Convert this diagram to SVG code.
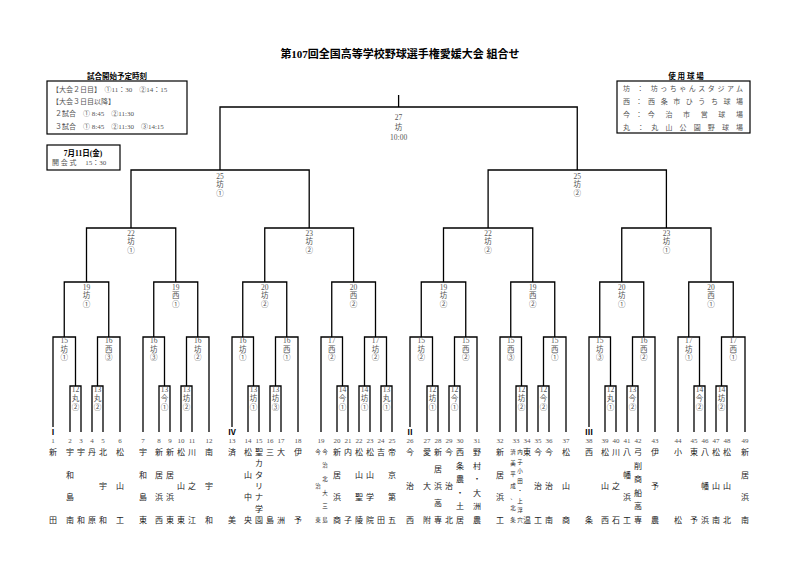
<svg xmlns="http://www.w3.org/2000/svg" width="801" height="566" viewBox="0 0 801 566">
<style>
.l{fill:none;stroke:#000;stroke-width:1.3}
.b{fill:none;stroke:#000;stroke-width:1.2}
text{font-family:"Liberation Serif","Noto Sans CJK JP",serif}
.t{font-size:7.5px;fill:#555;text-anchor:middle}
.n{font-size:8px;fill:#222;text-anchor:middle}
.s{font-size:5.5px;fill:#222;text-anchor:middle}
.k{font-size:7px;fill:#555;text-anchor:middle}
.h{font-size:7.5px;font-weight:bold;fill:#000;text-anchor:middle}
.i{font-size:7px;fill:#555}
.r{font-size:8px;font-weight:bold;fill:#000;text-anchor:middle}
</style>
<rect width="801" height="566" fill="#fff"/>
<text x="400" y="58" style="font-size:11px;font-weight:bold;text-anchor:middle">第107回全国高等学校野球選手権愛媛大会 組合せ</text>
<g id="start-times">
<text class="h" x="117" y="79">試合開始予定時刻</text>
<rect class="b" x="47" y="81" width="140" height="53"/>
<text class="i" x="52" y="92">【大会２日目】　①11：30　②14：15</text>
<text class="i" x="52" y="104">【大会３日目以降】</text>
<text class="i" x="55" y="116">２試合　① 8:45　②11:30</text>
<text class="i" x="55" y="129">３試合　① 8:45　②11:30　③14:15</text>
</g>
<g id="opening">
<rect class="b" x="47" y="145" width="73" height="25"/>
<text class="h" x="83" y="156">7月11日(金)</text>
<text class="i" x="52" y="165">開 会 式　 15：30</text>
</g>
<g id="venues">
<text class="h" x="686" y="79">使 用 球 場</text>
<rect class="b" x="617" y="81" width="133" height="52"/>
<text class="i" x="623" y="91" textLength="120">坊 ： 坊っちゃんスタジアム</text>
<text class="i" x="623" y="104" textLength="120">西 ： 西 条 市 ひ う ち 球 場</text>
<text class="i" x="623" y="117" textLength="120">今 ： 今　治　市　営　球　場</text>
<text class="i" x="623" y="130" textLength="120">丸 ： 丸 山 公 園 野 球 場</text>
</g>
<g id="connectors">
<path class="l" d="M398.6,95V107M220,170V107H577.25V170"/>
<path class="l" d="M131,228V170H309.2V228M488.1,228V170H666.4V228"/>
<path class="l" d="M86.5,282V228H175.75V282M264.75,282V228H353.6V282M443.5,282V228H532.75V282M621.75,282V228H711V282"/>
<path class="l" d="M64.25,337V282H108.75V337M153.75,337V282H197.75V337M242.75,337V282H286.75V337M331.75,337V282H375.5V337M421.25,337V282H465.75V337M510.75,337V282H554.75V337M599.75,337V282H643.75V337M688.75,337V282H733.25V337"/>
<path class="l" d="M53,427V337H75.5V386M97.5,386V337H120V432M143,432V337H164.5V386M186.5,386V337H209V432M232,427V337H253.5V386M275.5,386V337H298V432M321,432V337H342.5V386M364.5,386V337H386.5V386M410,427V337H432.5V386M454.5,386V337H477V432M500,432V337H521.5V386M543.5,386V337H566V432M589,427V337H610.5V386M632.5,386V337H655V432M678,432V337H699.5V386M721.5,386V337H745V432"/>
<path class="l" d="M70,432V386H81V432M92,432V386H103V432M159,432V386H170V432M181,432V386H192V432M248,432V386H259V432M270,432V386H281V432M337,432V386H348V432M359,432V386H370V432M381,432V386H392V432M427,432V386H438V432M449,432V386H460V432M516,432V386H527V432M538,432V386H549V432M605,432V386H616V432M627,432V386H638V432M694,432V386H705V432M716,432V386H727V432"/>
</g>
<g id="match-labels" class="t">
<text x="398.6" y="120">27</text><text x="398.6" y="130">坊</text><text x="398.6" y="140">10:00</text>
<text x="220" y="179">25</text><text x="220" y="187">坊</text><text x="220" y="196">①</text>
<text x="577.25" y="179">25</text><text x="577.25" y="187">坊</text><text x="577.25" y="196">②</text>
<text x="131" y="236">22</text><text x="131" y="244">坊</text><text x="131" y="253">①</text>
<text x="309.2" y="236">23</text><text x="309.2" y="244">坊</text><text x="309.2" y="253">②</text>
<text x="488.1" y="236">22</text><text x="488.1" y="244">坊</text><text x="488.1" y="253">②</text>
<text x="666.4" y="236">23</text><text x="666.4" y="244">坊</text><text x="666.4" y="253">①</text>
<text x="86.5" y="290">19</text><text x="86.5" y="298">坊</text><text x="86.5" y="307">①</text>
<text x="175.75" y="290">19</text><text x="175.75" y="298">西</text><text x="175.75" y="307">①</text>
<text x="264.75" y="290">20</text><text x="264.75" y="298">坊</text><text x="264.75" y="307">②</text>
<text x="353.6" y="290">20</text><text x="353.6" y="298">西</text><text x="353.6" y="307">②</text>
<text x="443.5" y="290">19</text><text x="443.5" y="298">坊</text><text x="443.5" y="307">②</text>
<text x="532.75" y="290">19</text><text x="532.75" y="298">西</text><text x="532.75" y="307">②</text>
<text x="621.75" y="290">20</text><text x="621.75" y="298">坊</text><text x="621.75" y="307">①</text>
<text x="711" y="290">20</text><text x="711" y="298">西</text><text x="711" y="307">①</text>
<text x="64.25" y="343">15</text><text x="64.25" y="352">坊</text><text x="64.25" y="360">①</text>
<text x="108.75" y="343">16</text><text x="108.75" y="352">西</text><text x="108.75" y="360">③</text>
<text x="153.75" y="343">16</text><text x="153.75" y="352">坊</text><text x="153.75" y="360">③</text>
<text x="197.75" y="343">16</text><text x="197.75" y="352">坊</text><text x="197.75" y="360">②</text>
<text x="242.75" y="343">16</text><text x="242.75" y="352">坊</text><text x="242.75" y="360">①</text>
<text x="286.75" y="343">16</text><text x="286.75" y="352">西</text><text x="286.75" y="360">①</text>
<text x="331.75" y="343">17</text><text x="331.75" y="352">西</text><text x="331.75" y="360">②</text>
<text x="375.5" y="343">17</text><text x="375.5" y="352">坊</text><text x="375.5" y="360">②</text>
<text x="421.25" y="343">15</text><text x="421.25" y="352">坊</text><text x="421.25" y="360">②</text>
<text x="465.75" y="343">15</text><text x="465.75" y="352">西</text><text x="465.75" y="360">②</text>
<text x="510.75" y="343">15</text><text x="510.75" y="352">西</text><text x="510.75" y="360">③</text>
<text x="554.75" y="343">15</text><text x="554.75" y="352">西</text><text x="554.75" y="360">①</text>
<text x="599.75" y="343">15</text><text x="599.75" y="352">坊</text><text x="599.75" y="360">③</text>
<text x="643.75" y="343">16</text><text x="643.75" y="352">西</text><text x="643.75" y="360">②</text>
<text x="688.75" y="343">17</text><text x="688.75" y="352">坊</text><text x="688.75" y="360">①</text>
<text x="733.25" y="343">17</text><text x="733.25" y="352">西</text><text x="733.25" y="360">①</text>
<text x="75.5" y="392">12</text><text x="75.5" y="401">丸</text><text x="75.5" y="410">②</text>
<text x="97.5" y="392">13</text><text x="97.5" y="401">丸</text><text x="97.5" y="410">②</text>
<text x="164.5" y="392">13</text><text x="164.5" y="401">今</text><text x="164.5" y="410">①</text>
<text x="186.5" y="392">13</text><text x="186.5" y="401">坊</text><text x="186.5" y="410">②</text>
<text x="253.5" y="392">13</text><text x="253.5" y="401">坊</text><text x="253.5" y="410">①</text>
<text x="275.5" y="392">13</text><text x="275.5" y="401">坊</text><text x="275.5" y="410">③</text>
<text x="342.5" y="392">14</text><text x="342.5" y="401">今</text><text x="342.5" y="410">①</text>
<text x="364.5" y="392">14</text><text x="364.5" y="401">坊</text><text x="364.5" y="410">①</text>
<text x="386.5" y="392">13</text><text x="386.5" y="401">丸</text><text x="386.5" y="410">①</text>
<text x="432.5" y="392">12</text><text x="432.5" y="401">坊</text><text x="432.5" y="410">①</text>
<text x="454.5" y="392">12</text><text x="454.5" y="401">今</text><text x="454.5" y="410">①</text>
<text x="521.5" y="392">12</text><text x="521.5" y="401">坊</text><text x="521.5" y="410">②</text>
<text x="543.5" y="392">12</text><text x="543.5" y="401">今</text><text x="543.5" y="410">②</text>
<text x="610.5" y="392">12</text><text x="610.5" y="401">丸</text><text x="610.5" y="410">①</text>
<text x="632.5" y="392">13</text><text x="632.5" y="401">今</text><text x="632.5" y="410">②</text>
<text x="699.5" y="392">14</text><text x="699.5" y="401">今</text><text x="699.5" y="410">②</text>
<text x="721.5" y="392">14</text><text x="721.5" y="401">坊</text><text x="721.5" y="410">②</text>
</g>
<g id="blocks">
<text class="r" x="53" y="435">Ⅰ</text><text class="r" x="232" y="435">Ⅳ</text><text class="r" x="410" y="435">Ⅱ</text><text class="r" x="589" y="435">Ⅲ</text>
</g>
<g id="numbers" class="k">
<text x="53" y="443">1</text><text x="70" y="443">2</text><text x="81" y="443">3</text><text x="92" y="443">4</text><text x="103" y="443">5</text><text x="120" y="443">6</text><text x="143" y="443">7</text><text x="159" y="443">8</text><text x="170" y="443">9</text><text x="181" y="443">10</text><text x="192" y="443">11</text><text x="209" y="443">12</text><text x="232" y="443">13</text><text x="248" y="443">14</text><text x="259" y="443">15</text><text x="270" y="443">16</text><text x="281" y="443">17</text><text x="298" y="443">18</text><text x="321" y="443">19</text><text x="337" y="443">20</text><text x="348" y="443">21</text><text x="359" y="443">22</text><text x="370" y="443">23</text><text x="381" y="443">24</text><text x="392" y="443">25</text><text x="410" y="443">26</text><text x="427" y="443">27</text><text x="438" y="443">28</text><text x="449" y="443">29</text><text x="460" y="443">30</text><text x="477" y="443">31</text><text x="500" y="443">32</text><text x="516" y="443">33</text><text x="527" y="443">34</text><text x="538" y="443">35</text><text x="549" y="443">36</text><text x="566" y="443">37</text><text x="589" y="443">38</text><text x="605" y="443">39</text><text x="616" y="443">40</text><text x="627" y="443">41</text><text x="638" y="443">42</text><text x="655" y="443">43</text><text x="678" y="443">44</text><text x="694" y="443">45</text><text x="705" y="443">46</text><text x="716" y="443">47</text><text x="727" y="443">48</text><text x="745" y="443">49</text>
</g>
<g id="teams" class="n">
<text id="t1" x="53 53 53 53 53 53 53 53"><tspan y="455">新</tspan><tspan y="523">田</tspan></text>
<text id="t2" x="70 70 70 70 70 70 70 70"><tspan y="455">宇</tspan><tspan y="478">和</tspan><tspan y="500">島</tspan><tspan y="523">南</tspan></text>
<text id="t3" x="81 81 81 81 81 81 81 81"><tspan y="455">宇</tspan><tspan y="523">和</tspan></text>
<text id="t4" x="92 92 92 92 92 92 92 92"><tspan y="455">丹</tspan><tspan y="523">原</tspan></text>
<text id="t5" x="103 103 103 103 103 103 103 103"><tspan y="455">北</tspan><tspan y="489">宇</tspan><tspan y="523">和</tspan></text>
<text id="t6" x="120 120 120 120 120 120 120 120"><tspan y="455">松</tspan><tspan y="489">山</tspan><tspan y="523">工</tspan></text>
<text id="t7" x="143 143 143 143 143 143 143 143"><tspan y="455">宇</tspan><tspan y="478">和</tspan><tspan y="500">島</tspan><tspan y="523">東</tspan></text>
<text id="t8" x="159 159 159 159 159 159 159 159"><tspan y="455">新</tspan><tspan y="478">居</tspan><tspan y="500">浜</tspan><tspan y="523">西</tspan></text>
<text id="t9" x="170 170 170 170 170 170 170 170"><tspan y="455">新</tspan><tspan y="478">居</tspan><tspan y="500">浜</tspan><tspan y="523">東</tspan></text>
<text id="t10" x="181 181 181 181 181 181 181 181"><tspan y="455">松</tspan><tspan y="489">山</tspan><tspan y="523">東</tspan></text>
<text id="t11" x="192 192 192 192 192 192 192 192"><tspan y="455">川</tspan><tspan y="489">之</tspan><tspan y="523">江</tspan></text>
<text id="t12" x="209 209 209 209 209 209 209 209"><tspan y="455">南</tspan><tspan y="489">宇</tspan><tspan y="523">和</tspan></text>
<text id="t13" x="232 232 232 232 232 232 232 232"><tspan y="455">済</tspan><tspan y="523">美</tspan></text>
<text id="t14" x="248 248 248 248 248 248 248 248"><tspan y="455">松</tspan><tspan y="478">山</tspan><tspan y="500">中</tspan><tspan y="523">央</tspan></text>
<text id="t15" x="259 259 259 259 259 259 259 259"><tspan y="455">聖</tspan><tspan y="466">カ</tspan><tspan y="478">タ</tspan><tspan y="489">リ</tspan><tspan y="500">ナ</tspan><tspan y="512">学</tspan><tspan y="523">園</tspan></text>
<text id="t16" x="270 270 270 270 270 270 270 270"><tspan y="455">三</tspan><tspan y="523">島</tspan></text>
<text id="t17" x="281 281 281 281 281 281 281 281"><tspan y="455">大</tspan><tspan y="523">洲</tspan></text>
<text id="t18" x="298 298 298 298 298 298 298 298"><tspan y="455">伊</tspan><tspan y="523">予</tspan></text>
<text id="t19a" class="s" x="318 318 318 318 318 318 318 318"><tspan y="454">今</tspan><tspan y="488">治</tspan><tspan y="522">東</tspan></text>
<text id="t19b" class="s" x="325 325 325 325 325 325 325 325"><tspan y="454">今</tspan><tspan y="467">治</tspan><tspan y="481">北</tspan><tspan y="495">大</tspan><tspan y="508">三</tspan><tspan y="522">島</tspan></text>
<text id="t20" x="337 337 337 337 337 337 337 337"><tspan y="455">新</tspan><tspan y="478">居</tspan><tspan y="500">浜</tspan><tspan y="523">商</tspan></text>
<text id="t21" x="348 348 348 348 348 348 348 348"><tspan y="455">内</tspan><tspan y="523">子</tspan></text>
<text id="t22" x="359 359 359 359 359 359 359 359"><tspan y="455">松</tspan><tspan y="478">山</tspan><tspan y="500">聖</tspan><tspan y="523">陵</tspan></text>
<text id="t23" x="370 370 370 370 370 370 370 370"><tspan y="455">松</tspan><tspan y="478">山</tspan><tspan y="500">学</tspan><tspan y="523">院</tspan></text>
<text id="t24" x="381 381 381 381 381 381 381 381"><tspan y="455">吉</tspan><tspan y="523">田</tspan></text>
<text id="t25" x="392 392 392 392 392 392 392 392"><tspan y="455">帝</tspan><tspan y="478">京</tspan><tspan y="500">第</tspan><tspan y="523">五</tspan></text>
<text id="t26" x="410 410 410 410 410 410 410 410"><tspan y="455">今</tspan><tspan y="489">治</tspan><tspan y="523">西</tspan></text>
<text id="t27" x="427 427 427 427 427 427 427 427"><tspan y="455">愛</tspan><tspan y="489">大</tspan><tspan y="523">附</tspan></text>
<text id="t28" x="438 438 438 438 438 438 438 438"><tspan y="455">新</tspan><tspan y="472">居</tspan><tspan y="489">浜</tspan><tspan y="506">高</tspan><tspan y="523">専</tspan></text>
<text id="t29" x="449 449 449 449 449 449 449 449"><tspan y="455">今</tspan><tspan y="489">治</tspan><tspan y="523">北</tspan></text>
<text id="t30" x="460 460 460 460 460 460 460 460"><tspan y="455">西</tspan><tspan y="469">条</tspan><tspan y="482">農</tspan><tspan y="496">・</tspan><tspan y="509">土</tspan><tspan y="523">居</tspan></text>
<text id="t31" x="477 477 477 477 477 477 477 477"><tspan y="455">野</tspan><tspan y="469">村</tspan><tspan y="482">・</tspan><tspan y="496">大</tspan><tspan y="509">洲</tspan><tspan y="523">農</tspan></text>
<text id="t32" x="500 500 500 500 500 500 500 500"><tspan y="455">新</tspan><tspan y="478">居</tspan><tspan y="500">浜</tspan><tspan y="523">工</tspan></text>
<text id="t33a" class="s" x="513 513 513 513 513 513 513 513"><tspan y="454">済</tspan><tspan y="465">美</tspan><tspan y="476">平</tspan><tspan y="488">成</tspan><tspan y="499">、</tspan><tspan y="510">北</tspan><tspan y="522">条</tspan></text>
<text id="t33b" class="s" x="520 520 520 520 520 520 520 520"><tspan y="454">内</tspan><tspan y="464">子</tspan><tspan y="473">小</tspan><tspan y="483">田</tspan><tspan y="493">・</tspan><tspan y="503">上</tspan><tspan y="512">浮</tspan><tspan y="522">穴</tspan></text>
<text id="t34" x="527 527 527 527 527 527 527 527"><tspan y="455">東</tspan><tspan y="523">温</tspan></text>
<text id="t35" x="538 538 538 538 538 538 538 538"><tspan y="455">今</tspan><tspan y="489">治</tspan><tspan y="523">工</tspan></text>
<text id="t36" x="549 549 549 549 549 549 549 549"><tspan y="455">今</tspan><tspan y="489">治</tspan><tspan y="523">南</tspan></text>
<text id="t37" x="566 566 566 566 566 566 566 566"><tspan y="455">松</tspan><tspan y="489">山</tspan><tspan y="523">商</tspan></text>
<text id="t38" x="589 589 589 589 589 589 589 589"><tspan y="455">西</tspan><tspan y="523">条</tspan></text>
<text id="t39" x="605 605 605 605 605 605 605 605"><tspan y="455">松</tspan><tspan y="489">山</tspan><tspan y="523">西</tspan></text>
<text id="t40" x="616 616 616 616 616 616 616 616"><tspan y="455">川</tspan><tspan y="489">之</tspan><tspan y="523">石</tspan></text>
<text id="t41" x="627 627 627 627 627 627 627 627"><tspan y="455">八</tspan><tspan y="478">幡</tspan><tspan y="500">浜</tspan><tspan y="523">工</tspan></text>
<text id="t42" x="638 638 638 638 638 638 638 638"><tspan y="455">弓</tspan><tspan y="469">削</tspan><tspan y="482">商</tspan><tspan y="496">船</tspan><tspan y="509">高</tspan><tspan y="523">専</tspan></text>
<text id="t43" x="655 655 655 655 655 655 655 655"><tspan y="455">伊</tspan><tspan y="489">予</tspan><tspan y="523">農</tspan></text>
<text id="t44" x="678 678 678 678 678 678 678 678"><tspan y="455">小</tspan><tspan y="523">松</tspan></text>
<text id="t45" x="694 694 694 694 694 694 694 694"><tspan y="455">東</tspan><tspan y="523">予</tspan></text>
<text id="t46" x="705 705 705 705 705 705 705 705"><tspan y="455">八</tspan><tspan y="489">幡</tspan><tspan y="523">浜</tspan></text>
<text id="t47" x="716 716 716 716 716 716 716 716"><tspan y="455">松</tspan><tspan y="489">山</tspan><tspan y="523">南</tspan></text>
<text id="t48" x="727 727 727 727 727 727 727 727"><tspan y="455">松</tspan><tspan y="489">山</tspan><tspan y="523">北</tspan></text>
<text id="t49" x="745 745 745 745 745 745 745 745"><tspan y="455">新</tspan><tspan y="478">居</tspan><tspan y="500">浜</tspan><tspan y="523">南</tspan></text>
</g>
</svg>
